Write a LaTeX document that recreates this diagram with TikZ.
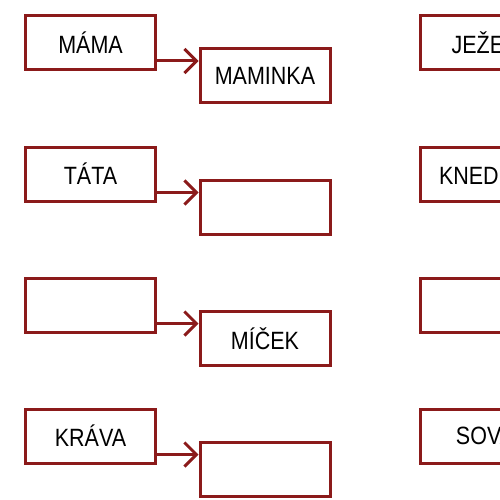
\documentclass[tikz,border=0pt]{standalone}
\usepackage{fontspec}
\setmainfont[FakeStretch=0.86]{Liberation Sans}
\usetikzlibrary{arrows.meta}
\definecolor{boxred}{HTML}{8B1A1A}
\begin{document}
\begin{tikzpicture}[x=1pt,y=-1pt,
  wbox/.style={draw=boxred,line width=3pt,fill=white,minimum width=130pt,minimum height=54pt,inner sep=0pt,font=\fontsize{25}{30}\selectfont},
  arr/.style={draw=boxred,line width=3pt,-{Straight Barb[length=12pt,width=24pt,line width=3pt]}}]
\clip (0,0) rectangle (500,500);
\fill[white] (0,0) rectangle (500,500);
% left column
\node[wbox] (l1) at (90.5,42.5) {MÁMA};
\node[wbox] (l2) at (90.5,174) {TÁTA};
\node[wbox] (l3) at (90.5,305) {};
\node[wbox] (l4) at (90.5,436) {KRÁVA};
% middle column
\node[wbox] (r1) at (265,75.5) {MAMINKA};
\node[wbox] (r2) at (265,207) {};
\node[wbox] (r3) at (265,338.5) {MÍČEK};
\node[wbox] (r4) at (265,469.5) {};
% right column (cut off)
\node[wbox] (f1) at (485,42.5) {JEŽEK};
\node[wbox] (f2) at (485,174) {KNEDLÍK};
\node[wbox] (f3) at (485,305) {};
\node[wbox] (f4) at (485,436) {SOVA};
% arrows
\foreach \i in {1,2,3,4}{
  \path ([yshift=10pt]l\i.south east) coordinate (a\i);
  \draw[arr] (a\i) -- (a\i -| r\i.west);
}
\end{tikzpicture}
\end{document}
